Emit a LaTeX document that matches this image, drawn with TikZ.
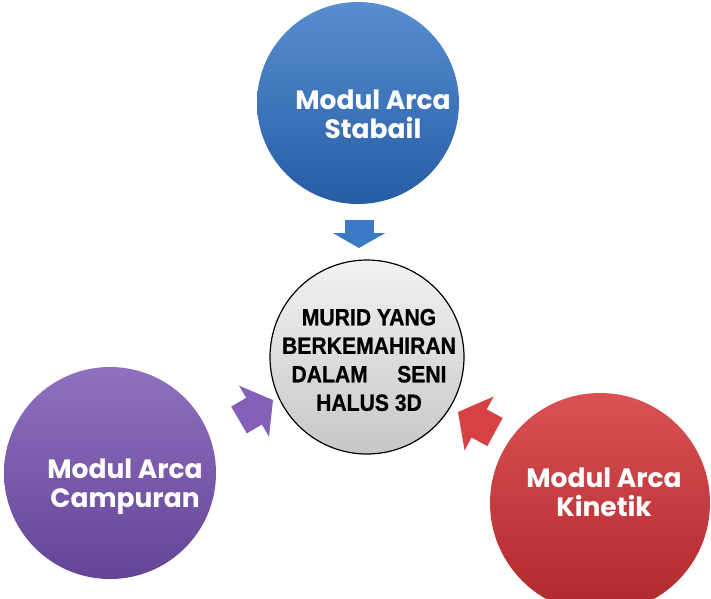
\documentclass[tikz,border=0pt]{standalone}
\usepackage{fontspec}
\usepackage{tikz}
\usetikzlibrary{arrows.meta,positioning}
\newfontfamily\modfont{Poppins}
\newfontfamily\muridfont[BoldFeatures={FakeStretch=0.9,FakeBold=0.8}]{Liberation Sans}
\definecolor{arcablue}{RGB}{58,122,198}
\definecolor{arcabluedk}{RGB}{38,92,165}
\definecolor{arcapurple}{RGB}{132,96,184}
\definecolor{arcapurpledk}{RGB}{100,68,150}
\definecolor{arcared}{RGB}{214,66,68}
\definecolor{arcareddk}{RGB}{176,40,44}
\tikzset{modul/.style={circle, inner sep=0pt, text=white, align=center,
    font=\modfont\bfseries\fontsize{26.5}{29}\selectfont}}
\tikzset{tiparrow/.style={line width=31pt, -{Triangle[length=22pt, width=58pt]}}}

\begin{document}
\begin{tikzpicture}[x=1pt,y=-1pt]
  \useasboundingbox (0,0) rectangle (711,598);

  \node[modul, minimum size=202pt, top color=arcablue!85!white, bottom color=arcabluedk] (stabail) at (358,103) {};
  \node[modul, minimum size=212pt, top color=arcapurple!90!white, bottom color=arcapurpledk] (campuran) at (110,473) {};
  \node[modul, minimum size=220pt, top color=arcared!92!white, bottom color=arcareddk] (kinetik) at (600,503) {};
  \node[circle, draw=black, line width=1.2pt, minimum size=194pt, top color=white!95!black, bottom color=white!78!black] (murid) at (367,357) {};

  \node[modul] at (373,114) {Modul Arca\\Stabail};
  \node[modul] at (125,487) {Modul Arca\\Campuran};
  \node[modul] at (604,492) {Modul Arca\\Kinetik};
  \node[align=center, font=\muridfont\bfseries\fontsize{23.5}{28.5}\selectfont] at (369,360)
    {MURID YANG\\BERKEMAHIRAN\\DALAM\quad\ SENI\\HALUS 3D};

  % arrows into the centre
  \coordinate (sTail) at (359,220);
  \coordinate (sTip) at (359,248);
  \coordinate (cTail) at (239,420);
  \coordinate (cTip) at (273,400);
  \coordinate (kTail) at (495,432);
  \coordinate (kTip) at (458,412);
  \draw[tiparrow, arcablue, line width=29pt, -{Triangle[length=15pt, width=52pt]}] (sTail) -- (sTip);
  \draw[tiparrow, arcapurple] (cTail) -- (cTip);
  \draw[tiparrow, arcared, line width=32pt, -{Triangle[length=24pt, width=60pt]}] (kTail) -- (kTip);
\end{tikzpicture}
\end{document}
